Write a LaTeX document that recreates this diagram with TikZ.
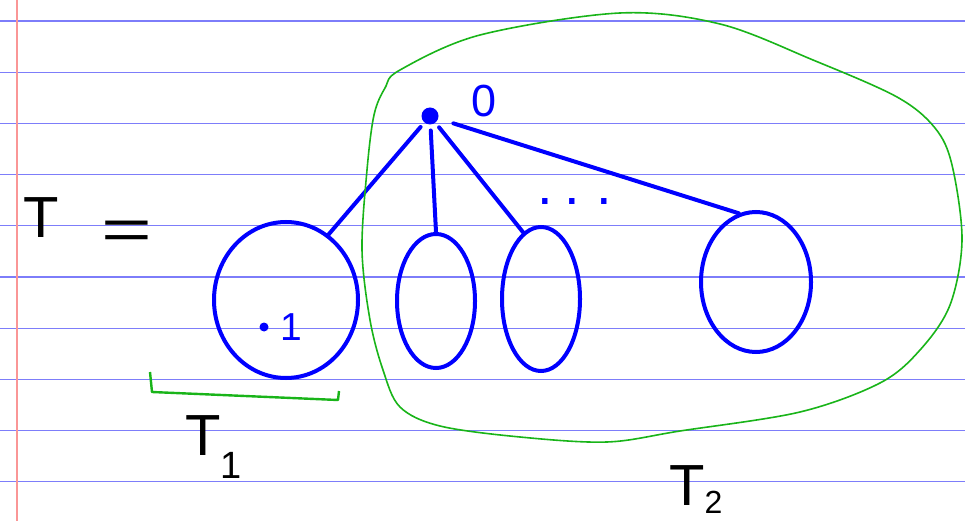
\documentclass[tikz,border=0pt]{standalone}
\usepackage{fontspec}
\setmainfont{Liberation Sans}
\usetikzlibrary{shapes.geometric}

\definecolor{paperblue}{RGB}{125,125,250}
\definecolor{marginred}{RGB}{250,150,150}
\definecolor{penGreen}{RGB}{25,180,25}

\begin{document}
\begin{tikzpicture}[x=1pt, y=-1pt,
    paperline/.style={line width=1.2pt, paperblue},
    subtree/.style={draw=blue, ellipse, line width=4pt, inner sep=0pt},
    vertex/.style={circle, fill=blue, inner sep=0pt},
    branch/.style={blue, line width=4pt, line cap=round},
    hand/.style={inner sep=0pt, font=\fontsize{58}{60}\selectfont},
    marker/.style={draw=penGreen, line width=1.6pt, line join=round}]
    \useasboundingbox (0,0) rectangle (965,521);
    % This draws the ruled lines of the paper and the margin.
        \foreach \k in {0,...,9}
            \draw[paperline] (0,21+51.2*\k) -- (965,21+51.2*\k);
        \draw[line width=2pt, marginred] (17,0) -- (17,521);
    % Below nodes are the labels.
        \node[hand, anchor=base] (tname) at (41,237) {T};
        \node[hand, anchor=base, xscale=1.5] (eq) at (127,249) {=};
    % Root with its label, then the four subtrees.
        \node[vertex, minimum size=17pt, outer sep=6pt] (root) at (430,116) {};
        \node[hand, blue, anchor=base, font=\fontsize{45}{46}\selectfont] (rootlab) at (484,117) {0};
        \node[subtree, minimum width=144pt, minimum height=156pt] (sub1) at (286,300) {};
        \node[subtree, minimum width=78pt, minimum height=134pt] (sub2) at (436,301) {};
        \node[subtree, minimum width=78pt, minimum height=144pt] (sub3) at (541,299) {};
        \node[subtree, minimum width=110pt, minimum height=140pt] (sub4) at (756,282) {};
        \node[vertex, minimum size=9pt] (c1) at (264,327) {};
        \node[hand, blue, anchor=base, font=\fontsize{39}{40}\selectfont] (c1lab) at (291,340) {1};
    % This draws the branches from the root.
        \draw[branch] (root) -- (sub1.57);
        \draw[branch] (root) -- (sub2.north);
        \draw[branch] (root) -- (sub3.105);
        \draw[branch, shorten <=10pt] (root) -- (sub4.104);
        \node[blue, inner sep=0pt, anchor=base, font=\fontsize{56}{56}\selectfont] (dots) at (575,205) {.\hspace{11pt}.\hspace{17pt}.};
    % The green bracket under T1 and the blob round T2.
        \draw[marker, line width=2.4pt] (150,372) -- (152,392) -- (338,400) -- (339,391);
        \draw[marker] plot[smooth cycle, tension=0.55] coordinates {
            (400,70) (480,35) (620,13) (720,24) (813,60) (897,97) (935,128)
            (952,165) (962,240) (950,305) (920,350) (880,383) (800,412)
            (680,431) (607,442) (520,437) (440,426) (400,407) (383,370)
            (370,320) (362,250) (367,170) (374,115) (385,88)};
        \node[hand, anchor=base west] (t1) at (185,455) {T\raisebox{-23pt}{\fontsize{38}{40}\selectfont 1}};
        \node[hand, anchor=base west] (t2) at (669,505) {T\raisebox{-8pt}{\fontsize{32}{34}\selectfont 2}};
\end{tikzpicture}
\end{document}
